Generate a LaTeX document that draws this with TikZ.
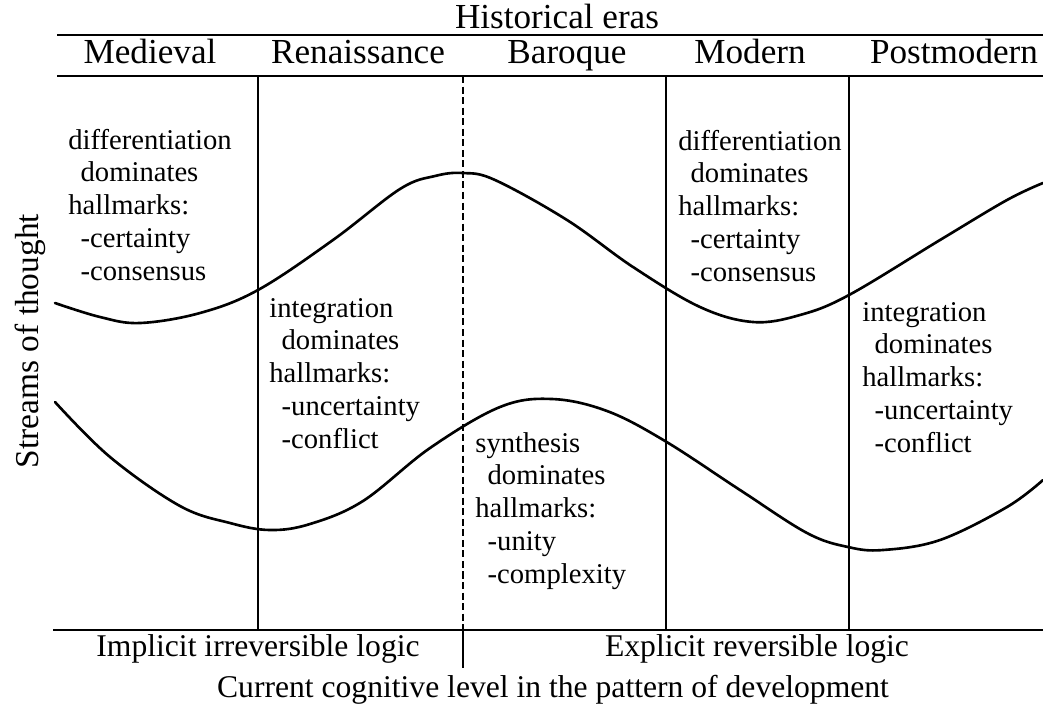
\documentclass[tikz,border=0pt]{standalone}
\usepackage{fontspec}
\setmainfont{Liberation Serif}

% one block of text in an era column
\newcommand{\hallmarks}[3]{\begin{tabular}[t]{@{}l@{}}#1\\\hspace{7pt}dominates\\hallmarks:\\\hspace{7pt}-#2\\\hspace{7pt}-#3\end{tabular}}

\begin{document}
\begin{tikzpicture}[x=0.02cm,y=-0.02cm,
    era/.style={anchor=base,inner sep=0pt,font=\fontsize{20}{23}\selectfont},
    logic/.style={anchor=base,inner sep=0pt,font=\fontsize{18}{21}\selectfont},
    phase/.style={anchor=base west,inner sep=0pt,font=\fontsize{16.3}{18.7}\selectfont},
    rule/.style={line width=1.3pt},
    border/.style={line width=1.1pt},
    wave/.style={line width=1.5pt,line join=round,line cap=round}]
\useasboundingbox (0,0) rectangle (1043,707);

% header
\node[era] (eras) at (557,28) {Historical eras};
\node[era] (medieval) at (150,63) {Medieval};
\node[era] (renaissance) at (358,63) {Renaissance};
\node[era] (baroque) at (567,63) {Baroque};
\node[era] (modern) at (750,63) {Modern};
\node[era] (postmodern) at (954,63) {Postmodern};
\draw[rule] (57,35) -- (1043,35);
\draw[rule] (57,76) -- (1043,76);
\draw[rule] (53,630) -- (1043,630);

% era borders
\draw[border] (258,76) -- (258,630);
\draw[line width=0.9pt,dash pattern=on 4pt off 2pt] (463,76) -- (463,630);
\draw[border] (463,630) -- (463,668);
\draw[border] (666,76) -- (666,630);
\draw[border] (849,76) -- (849,630);

% streams
\draw[wave] plot[smooth,tension=0.6] coordinates {(55,303) (100,317) (140,323) (200,313) (258,290) (333,240) (400,189) (435,176) (463,173) (495,180) (567,220) (633,267) (700,307) (753,322) (800,315) (849,295) (940,240) (1007,200) (1043,183)};
\draw[wave] plot[smooth,tension=0.6] coordinates {(55,402) (110,457) (180,506) (230,523) (270,530) (310,524) (363,501) (430,448) (500,407) (552,399) (607,411) (665,441) (740,490) (807,533) (848,547) (883,550) (940,540) (1007,507) (1043,480)};

\node[phase] (diffA) at (68,149) {\hallmarks{differentiation}{certainty}{consensus}};
\node[phase] (integA) at (269,317) {\hallmarks{integration}{uncertainty}{conflict}};
\node[phase] (synth) at (475,452) {\hallmarks{synthesis}{unity}{complexity}};
\node[phase] (diffB) at (678,150) {\hallmarks{differentiation}{certainty}{consensus}};
\node[phase] (integB) at (862,321) {\hallmarks{integration}{uncertainty}{conflict}};

\node[anchor=center,inner sep=0pt,rotate=90,font=\fontsize{19}{22}\selectfont] (streams) at (30,341) {Streams of thought};

% footer
\node[logic] (implicit) at (258,656) {Implicit irreversible logic};
\node[logic] (explicit) at (757,656) {Explicit reversible logic};
\node[logic] (level) at (553,697) {Current cognitive level in the pattern of development};
\end{tikzpicture}
\end{document}
